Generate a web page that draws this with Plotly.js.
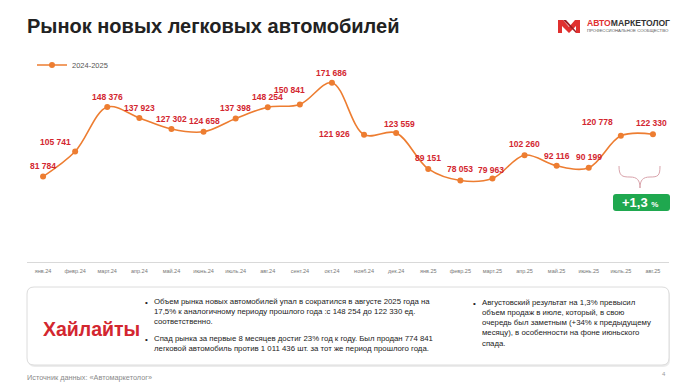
<!DOCTYPE html>
<html>
<head>
<meta charset="utf-8">
<script src="https://cdn.plot.ly/plotly-3.0.1.min.js"></script>
<style>html,body{margin:0;padding:0;background:#fff;}#chart{width:696px;height:388px;}</style>
</head>
<body>
<div id="chart"></div>
<script>
// ---- data ----
const months = ['янв.24','февр.24','март.24','апр.24','май.24','июнь.24','июль.24','авг.24','сент.24','окт.24','нояб.24','дек.24','янв.25','февр.25','март.25','апр.25','май.25','июнь.25','июль.25','авг.25'];
const sales = [81784,105741,148376,137923,127302,124658,137398,148254,150841,171686,121926,123559,89151,78053,79963,102260,92116,90199,120778,122330];
const seriesName = '2024-2025';
const changeLabel = '+1,3';
const titleText = 'Рынок новых легковых автомобилей';
const highlightsTitle = 'Хайлайты';
const bullet1 = 'Объем рынка новых автомобилей упал в сократился в августе 2025 года на<br>17,5% к аналогичному периоду прошлого года :с 148 254 до 122 330 ед.<br>соответственно.';
const bullet2 = 'Спад рынка за первые 8 месяцев достиг 23% год к году. Был продан 774 841<br>легковой автомобиль против 1 011 436 шт. за тот же период прошлого года.';
const bullet3 = 'Августовский результат на 1,3% превысил<br>объем продаж в июле, который, в свою<br>очередь был заметным (+34% к предыдущему<br>месяцу), в особенности на фоне июньского<br>спада.';
const sourceText = 'Источник данных: «Автомаркетолог»';
const pageNum = '4';

// ---- label offsets (style) ----
const labelDx = [0,-20,0,0,0,1,0,0,-10,0,-30,3,0,0,-1,0,0,0,-23,-1];
const labelDy = [11,10,10,10,10,11,11,10,14,10,1,9,11,11,8,11,10,11,14,11];

// ---- geometry helpers (plot area 27..669 x, 74..262 y) ----
const L = 27, R = 669, T = 74, B = 262;
const px = x => (x - L) / (R - L);
const py = y => (B - y) / (B - T);

const fmt = v => String(v).replace(/\B(?=(\d{3})+(?!\d))/g, ' ');
const RED = '#d3262f';
const ORANGE = '#ed7d31';

const annotations = sales.map((v, i) => ({
  x: months[i], y: v, xref: 'x', yref: 'y',
  text: '<b>' + fmt(v) + '</b>', showarrow: false,
  xshift: labelDx[i], yshift: labelDy[i],
  font: {family: 'Liberation Sans, Arial', size: 8.5, color: RED}
}));

function rr(x0, y0, x1, y1, r) {
  const X0 = px(x0), X1 = px(x1), Y0 = py(y0), Y1 = py(y1);
  const rx = r / (R - L), ry = r / (B - T);
  return `M${X0+rx},${Y0} L${X1-rx},${Y0} Q${X1},${Y0} ${X1},${Y0-ry} L${X1},${Y1+ry} Q${X1},${Y1} ${X1-rx},${Y1} L${X0+rx},${Y1} Q${X0},${Y1} ${X0},${Y1+ry} L${X0},${Y0-ry} Q${X0},${Y0} ${X0+rx},${Y0} Z`;
}
function poly(pts) {
  return 'M' + pts.map(p => px(p[0]) + ',' + py(p[1])).join(' L') + ' Z';
}

const shapes = [
  {type: 'path', xref: 'paper', yref: 'paper', path: rr(28, 289, 670, 367, 7), fillcolor: '#ececec', line: {width: 0}, layer: 'below'},
  {type: 'path', xref: 'paper', yref: 'paper', path: rr(27, 287, 669, 365, 7), fillcolor: '#ffffff', line: {color: '#dcdcdc', width: 1}, layer: 'below'},
  {type: 'path', xref: 'paper', yref: 'paper',
   path: `M${px(619)},${py(166)} C${px(619)},${py(176)} ${px(622)},${py(177)} ${px(630)},${py(177)} C${px(637)},${py(177)} ${px(640)},${py(180)} ${px(640)},${py(188)} C${px(640)},${py(180)} ${px(643)},${py(177)} ${px(650)},${py(177)} C${px(658)},${py(177)} ${px(660)},${py(176)} ${px(660)},${py(166)}`,
   line: {color: '#d9a3ab', width: 1}},
  {type: 'path', xref: 'paper', yref: 'paper', path: rr(613, 194, 670, 211, 3), fillcolor: '#1fa84f', line: {width: 0}},
  {type: 'path', xref: 'paper', yref: 'paper', path: poly([[558,33],[558,20],[563,20],[569,27],[575,20],[580,20],[580,33],[576,33],[576,26],[569,33],[562,26],[562,33]]), fillcolor: '#e0302f', line: {width: 0}},
  {type: 'path', xref: 'paper', yref: 'paper', path: poly([[563,20],[566,20],[576,31],[576,33]]), fillcolor: '#9e1c22', line: {width: 0}}
];

const textAnn = (x, y, text, size, color, opts) => Object.assign({
  xref: 'paper', yref: 'paper', x: px(x), y: py(y), text: text, showarrow: false,
  xanchor: 'left', yanchor: 'middle', align: 'left',
  font: {family: 'Liberation Sans, Arial', size: size, color: color}
}, opts || {});

annotations.push(
  textAnn(640, 202.5, '<b>' + changeLabel + ' <span style="font-size:8px">%</span></b>', 13, '#ffffff', {xanchor: 'center'}),
  textAnn(91, 329, '<b>' + highlightsTitle + '</b>', 19.5, RED, {xanchor: 'center'}),
  textAnn(143, 296, '•', 8, '#222', {yanchor: 'top'}),
  textAnn(152, 295, bullet1, 7.8, '#222', {yanchor: 'top'}),
  textAnn(143, 333, '•', 8, '#222', {yanchor: 'top'}),
  textAnn(152, 332, bullet2, 7.8, '#222', {yanchor: 'top'}),
  textAnn(471, 297, '•', 8, '#222', {yanchor: 'top'}),
  textAnn(480, 296, bullet3, 7.8, '#222', {yanchor: 'top'}),
  textAnn(25, 377, sourceText, 7.3, '#8a8a8a'),
  textAnn(668, 374, pageNum, 6, '#999', {xanchor: 'right'}),
  textAnn(585, 23, '<b><span style="color:#e0302f">АВТО</span>МАРКЕТОЛОГ</b>', 8.6, '#333'),
  textAnn(585, 31, 'ПРОФЕССИОНАЛЬНОЕ СООБЩЕСТВО', 4.3, '#555')
);

const trace = {
  type: 'scatter', mode: 'lines+markers', name: seriesName,
  x: months, y: sales,
  line: {color: ORANGE, width: 1.6, shape: 'spline', smoothing: 1},
  marker: {color: ORANGE, size: 6},
  hoverinfo: 'skip'
};

const layout = {
  width: 696, height: 388,
  margin: {l: L, r: 696 - R, t: T, b: 388 - B, pad: 0},
  paper_bgcolor: '#ffffff', plot_bgcolor: '#ffffff',
  title: {text: '<b>' + titleText + '</b>', xref: 'container', yref: 'container', x: 27/696, xanchor: 'left', y: 1 - 26/388, yanchor: 'middle',
          font: {family: 'Liberation Sans, Arial', size: 20, color: '#222'}},
  showlegend: true,
  legend: {x: px(32), y: py(65), xanchor: 'left', yanchor: 'middle', orientation: 'h', bgcolor: 'rgba(0,0,0,0)',
           font: {family: 'Liberation Sans, Arial', size: 7.5, color: '#555'}, itemwidth: 30},
  xaxis: {type: 'category', range: [-0.5, months.length - 0.5], autorange: false, showgrid: false, zeroline: false, showline: true, linecolor: '#d9d9d9', linewidth: 1,
          ticks: '', tickfont: {family: 'Liberation Sans, Arial', size: 5.5, color: '#777'}, ticklabelstandoff: 3, fixedrange: true},
  yaxis: {range: [0, 180000], autorange: false, visible: false, showgrid: false, zeroline: false, fixedrange: true},
  shapes: shapes,
  annotations: annotations
};

Plotly.newPlot('chart', [trace], layout, {displayModeBar: false, staticPlot: true});
</script>
</body>
</html>
